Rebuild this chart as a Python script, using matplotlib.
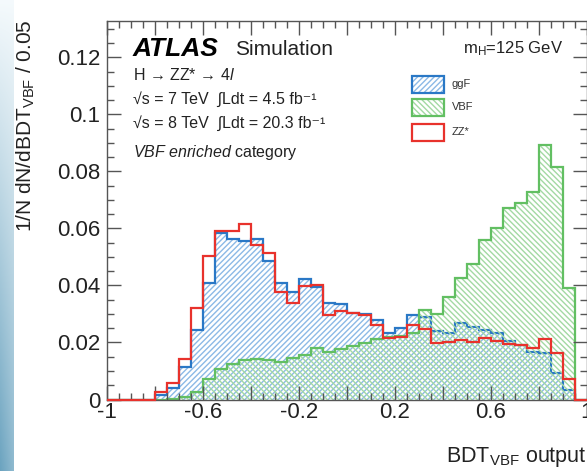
import numpy as np
import matplotlib
matplotlib.use("Agg")
import matplotlib.pyplot as plt
from matplotlib.patches import Rectangle
from matplotlib.ticker import MultipleLocator, FixedLocator, FixedFormatter

# normalised BDT_VBF output, 40 bins of width 0.05 from -1 to 1
bin_lo = -1.0
bin_width = 0.05
ggf = [0, 0, 0, 0, 0.0016, 0.0040, 0.0113, 0.0244, 0.0408, 0.0583,
       0.0563, 0.0555, 0.0562, 0.0487, 0.0408, 0.0378, 0.0422, 0.0394, 0.0340, 0.0335,
       0.0305, 0.0300, 0.0279, 0.0232, 0.0250, 0.0296, 0.0288, 0.0242, 0.0232, 0.0270,
       0.0255, 0.0244, 0.0232, 0.0205, 0.0191, 0.0166, 0.0162, 0.0092, 0.0033, 0]
vbf = [0, 0, 0, 0, 0, 0.0003, 0.0010, 0.0025, 0.0072, 0.0106,
       0.0125, 0.0139, 0.0142, 0.0139, 0.0130, 0.0145, 0.0156, 0.0180, 0.0165, 0.0177,
       0.0188, 0.0197, 0.0213, 0.0220, 0.0222, 0.0235, 0.0314, 0.0299, 0.0360, 0.0428,
       0.0474, 0.0560, 0.0600, 0.0671, 0.0690, 0.0729, 0.0893, 0.0817, 0.0390, 0]
zz = [0, 0, 0, 0, 0.0025, 0.0059, 0.0141, 0.0320, 0.0504, 0.0590,
      0.0590, 0.0615, 0.0542, 0.0515, 0.0376, 0.0338, 0.0398, 0.0401, 0.0296, 0.0310,
      0.0305, 0.0296, 0.0262, 0.0215, 0.0220, 0.0261, 0.0246, 0.0197, 0.0203, 0.0209,
      0.0203, 0.0217, 0.0205, 0.0194, 0.0191, 0.0180, 0.0211, 0.0164, 0.0071, 0]

x_labels = ["-1", "-0.6", "-0.2", "0.2", "0.6", "1"]
y_labels = ["0", "0.02", "0.04", "0.06", "0.08", "0.1", "0.12"]

edges = bin_lo + bin_width * np.arange(len(ggf) + 1)

blue, blue_h = "#2a78c6", "#8cb9e6"
green, green_h = "#62bf62", "#a3d9a3"
red = "#e8322c"
axis_col = "#555555"
txt = "#222222"

plt.rcParams['font.family'] = ['Liberation Sans', 'DejaVu Sans']
plt.rcParams['mathtext.fontset'] = 'custom'
plt.rcParams['mathtext.rm'] = 'Liberation Sans'
plt.rcParams['mathtext.it'] = 'Liberation Sans:italic'
plt.rcParams['hatch.linewidth'] = 1.0

W, H = 587, 471
fig = plt.figure(figsize=(W / 100, H / 100), dpi=100)

# blue stripe down the left side
strip = fig.add_axes([0, 0, 14 / W, 1])
grad = np.linspace(0, 1, 256)[:, None] * np.ones((1, 20))
fade = np.linspace(1, 0.75, 20)[None, :]
top = np.array([0.96, 0.98, 0.99])
bot = np.array([0.42, 0.64, 0.75])
img = top[None, None, :] + (bot - top)[None, None, :] * (grad * fade)[:, :, None]
strip.imshow(img, aspect='auto', extent=[0, 1, 0, 1])
strip.axis('off')

ax = fig.add_axes([107 / W, 1 - 399.5 / H, 480 / W, 378.5 / H])

ax.stairs(ggf, edges, fill=True, hatch='//////', facecolor='none',
          edgecolor=blue_h, linewidth=0)
ax.stairs(ggf, edges, color=blue, linewidth=1.6)
ax.stairs(vbf, edges, fill=True, hatch='\\\\\\\\\\\\', facecolor='none',
          edgecolor=green_h, linewidth=0)
ax.stairs(vbf, edges, color=green, linewidth=1.6)
ax.stairs(zz, edges, color=red, linewidth=1.6, zorder=3, clip_on=False)

ax.set_xlim(-1, 1)
ax.set_ylim(0, 0.1328)

# ticks
ax.xaxis.set_major_locator(FixedLocator(np.arange(-1, 1.01, 0.2)))
ax.xaxis.set_major_formatter(FixedFormatter([x_labels[i // 2] if i % 2 == 0 else ""
                                             for i in range(11)]))
ax.xaxis.set_minor_locator(MultipleLocator(0.05))
ax.yaxis.set_major_locator(FixedLocator(np.arange(0, 0.121, 0.02)))
ax.yaxis.set_major_formatter(FixedFormatter(y_labels))
ax.yaxis.set_minor_locator(MultipleLocator(0.005))
ax.tick_params(which='both', direction='in', top=True, right=True,
               color=axis_col, width=1.0, labelsize=16, labelcolor=txt)
ax.tick_params(which='major', length=10)
ax.tick_params(which='minor', length=5)
ax.tick_params(axis='y', pad=5)
ax.tick_params(axis='x', pad=2)
for s in ax.spines.values():
    s.set_color(axis_col)
    s.set_linewidth(1.0)

fig.text(1.0, 1 - 462 / H, r"BDT$_{\mathrm{VBF}}$ output", ha='right',
         va='baseline', fontsize=15.5, color=txt)
fig.text(26 / W, 1 - 20 / H, r"1/N dN/dBDT$_{\mathrm{VBF}}$ / 0.05", rotation=90,
         ha='center', va='top', fontsize=15, color=txt)

# labels inside the frame
fig.text(133 / W, 1 - 56 / H, "ATLAS", fontsize=19, fontweight='bold',
         fontstyle='italic', va='baseline')
fig.text(235 / W, 1 - 55 / H, "Simulation", fontsize=15, va='baseline', color=txt)
fig.text(563 / W, 1 - 53 / H, r"m$_{\mathrm{H}}$=125 GeV", fontsize=12, ha='right',
         va='baseline', color=txt)
fig.text(133 / W, 1 - 80 / H, r"H → ZZ* → 4$\mathit{l}$",
         fontsize=11.5, va='baseline', color=txt)
fig.text(133 / W, 1 - 104 / H, "√s = 7 TeV  ∫Ldt = 4.5 fb⁻¹", fontsize=11.5,
         va='baseline', color=txt)
fig.text(133 / W, 1 - 128 / H, "√s = 8 TeV  ∫Ldt = 20.3 fb⁻¹", fontsize=11.5,
         va='baseline', color=txt)
fig.text(133 / W, 1 - 157 / H, r"$\mathit{VBF\ enriched}$ category", fontsize=11.5,
         va='baseline', color=txt)

# legend boxes
entries = [("ggF", blue, blue_h, '//////', 84),
           ("VBF", green, green_h, '\\\\\\\\\\\\', 107),
           ("ZZ*", red, None, None, 132)]
for name, col, hcol, hatch, yc in entries:
    x0, y0 = 412 / W, 1 - (yc + 8.5) / H
    w, h = 32 / W, 17 / H
    if hatch:
        fig.patches.append(Rectangle((x0, y0), w, h, transform=fig.transFigure,
                                     facecolor='none', edgecolor=hcol, hatch=hatch,
                                     linewidth=0))
    fig.patches.append(Rectangle((x0, y0), w, h, transform=fig.transFigure,
                                 facecolor='none', edgecolor=col, linewidth=1.6))
    fig.text(452 / W, 1 - yc / H, name, fontsize=8, va='center', color='#333333')

fig.savefig("out.png", dpi=100)
